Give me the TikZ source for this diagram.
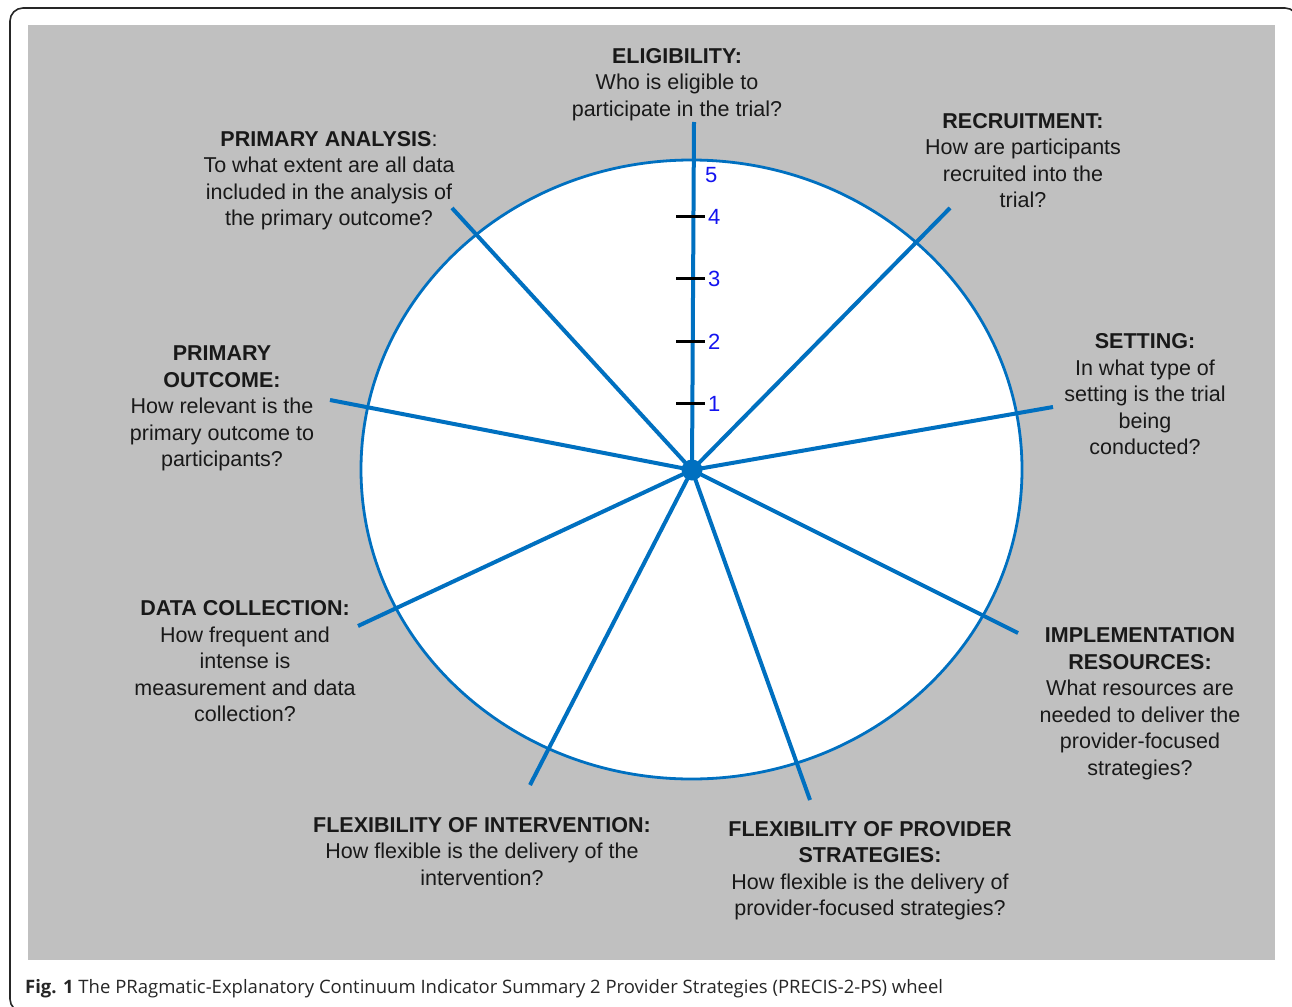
\documentclass[tikz,border=0pt]{standalone}
\usepackage{fontspec}
\setmainfont{Liberation Sans}
\newfontfamily\capfont{Open Sans}
\definecolor{bggray}{RGB}{192,192,192}
\definecolor{spokeblue}{RGB}{0,112,192}
\definecolor{numblue}{RGB}{20,20,240}
\tikzset{
  spoke/.style={draw=spokeblue, line width=4pt},
  rim/.style={draw=spokeblue, line width=2.8pt, fill=white},
  tickmark/.style={draw=black, line width=3pt},
  ticklabel/.style={text=numblue, font=\fontsize{22}{24}\selectfont, inner sep=0pt, anchor=west},
  question/.style={align=center, inner sep=0pt, text=black!90, font=\fontsize{21.5}{26.5}\selectfont},
}
\begin{document}
\begin{tikzpicture}[x=1pt,y=-1pt]
\useasboundingbox (0,0) rectangle (1292,1006);
\clip (0,0) rectangle (1292,1006);
% outer frame
\draw[line width=1.6pt, rounded corners=13pt, draw=black!85] (10,8) rectangle (1298,1012);
% gray panel
\fill[bggray] (28,25) rectangle (1275,960);
% wheel
\draw[rim] (691.5,469.5) ellipse [x radius=330.5pt, y radius=309.5pt];
\coordinate (hubpt) at (692,470);
\coordinate (eE) at (694,122);
\coordinate (eR) at (950,208);
\coordinate (eS) at (1053,407);
\coordinate (eI) at (1018,633);
\coordinate (eFP) at (810,800);
\coordinate (eFI) at (530,785);
\coordinate (eD) at (358,626);
\coordinate (eO) at (330,400);
\coordinate (eA) at (452,208);
\foreach \e in {eE,eR,eS,eI,eFP,eFI,eD,eO,eA}{
  \draw[spoke] (hubpt) -- (\e);
}
\node[circle, fill=spokeblue, minimum size=21pt, inner sep=0pt] (hub) at (hubpt) {};
% ticks
\foreach \yy/\n in {216/4,278/3,341/2,403/1}{
  \draw[tickmark] (676,\yy) -- (705,\yy);
  \node[ticklabel] (t\n) at (708,\yy+1) {\n};
}
\node[ticklabel] (t5) at (705,175) {5};
% labels
\node[question] (elig) at (677,84.5) {\textbf{ELIGIBILITY:}\\Who is eligible to\\participate in the trial?};
\node[question] (recr) at (1023,160.5) {\textbf{RECRUITMENT:}\\How are participants\\recruited into the\\trial?};
\node[question] (sett) at (1145,394.5) {\textbf{SETTING:}\\In what type of\\setting is the trial\\being\\conducted?};
\node[question] (impl) at (1140,703.5) {\textbf{IMPLEMENTATION}\\\textbf{RESOURCES:}\\What resources are\\needed to deliver the\\provider-focused\\strategies?};
\node[question] (flexp) at (870,870.5) {\textbf{FLEXIBILITY OF PROVIDER}\\\textbf{STRATEGIES:}\\How flexible is the delivery of\\provider-focused strategies?};
\node[question] (flexi) at (482,851.5) {\textbf{FLEXIBILITY OF INTERVENTION:}\\How flexible is the delivery of the\\intervention?};
\node[question] (data) at (245,661.5) {\textbf{DATA COLLECTION:}\\How frequent and\\intense is\\measurement and data\\collection?};
\node[question] (outc) at (222,408.5) {\textbf{PRIMARY}\\\textbf{OUTCOME:}\\How relevant is the\\primary outcome to\\participants?};
\node[question] (anal) at (329,180.5) {\textbf{PRIMARY ANALYSIS}:\\To what extent are all data\\included in the analysis of\\the primary outcome?};
% caption
\node[anchor=west, inner sep=0pt, text=black!85, font=\capfont\fontsize{18.5}{22}\selectfont] (cap) at (25,989) {\textbf{Fig. 1} The PRagmatic-Explanatory Continuum Indicator Summary 2 Provider Strategies (PRECIS-2-PS) wheel};
\end{tikzpicture}
\end{document}
